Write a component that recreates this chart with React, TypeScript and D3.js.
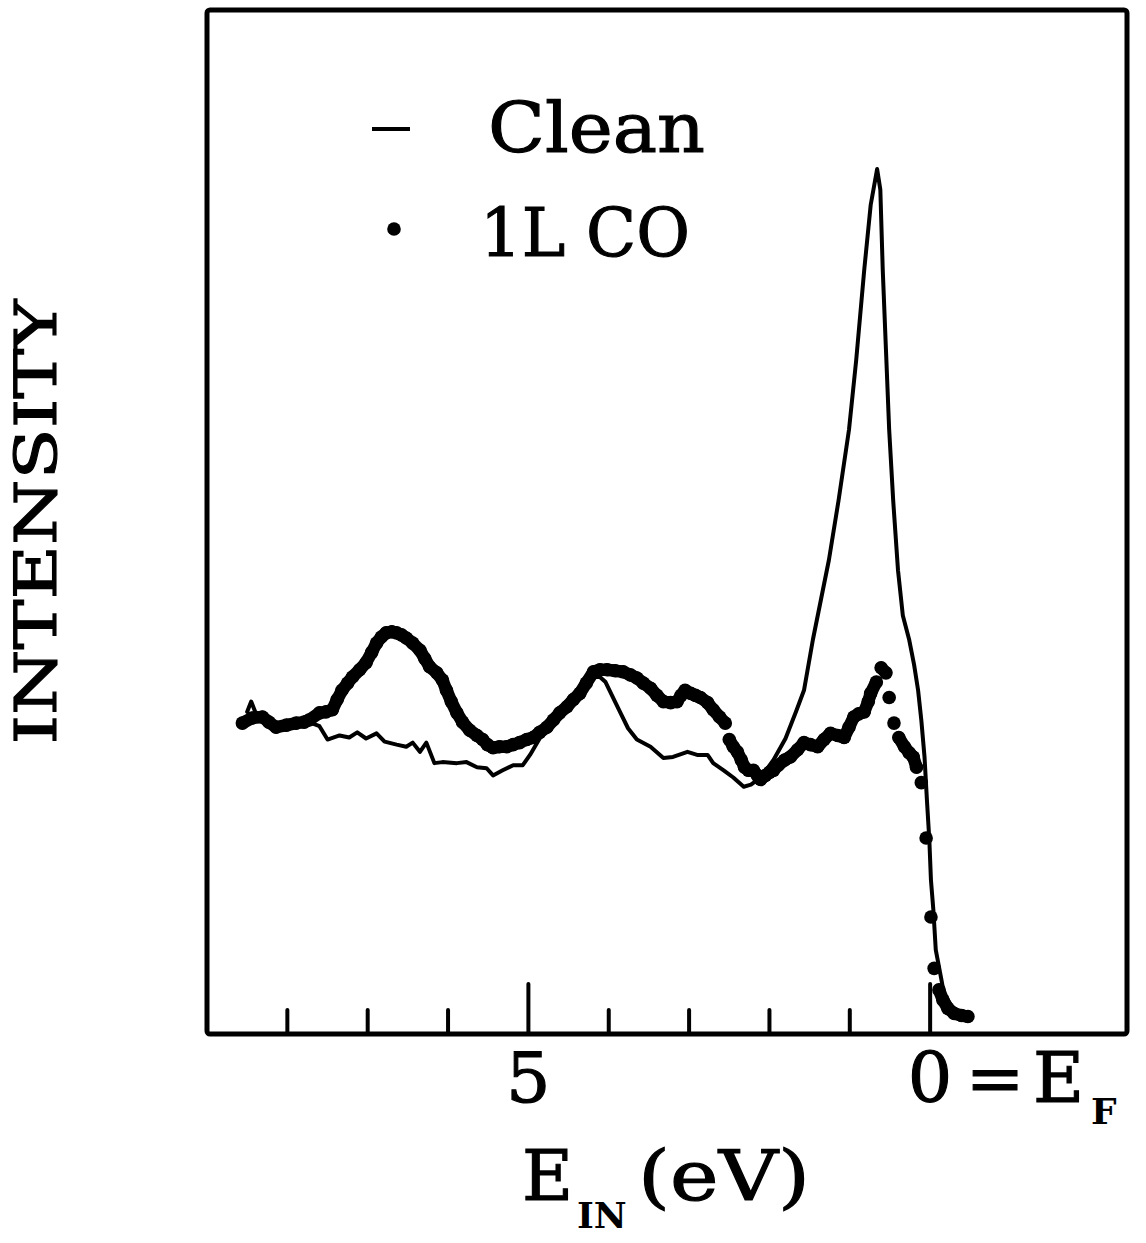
import React from "react";
import * as d3 from "d3";

// Energy below Fermi level (eV) and intensity (arb. units, 0-100) — clean surface
const cleanEnergy = [8.50, 8.45, 8.40, 8.33, 8.23, 8.10, 7.98, 7.85, 7.73, 7.60, 7.50, 7.35, 7.23, 7.13, 7.02, 6.89, 6.79, 6.64, 6.52, 6.44, 6.35, 6.27, 6.17, 6.07, 5.89, 5.77, 5.64, 5.52, 5.44, 5.32, 5.19, 5.07, 4.98, 4.86, 4.69, 4.52, 4.36, 4.19, 4.11, 4.04, 3.96, 3.86, 3.76, 3.65, 3.48, 3.32, 3.20, 3.02, 2.90, 2.77, 2.70, 2.57, 2.45, 2.32, 2.23, 2.11, 1.95, 1.80, 1.67, 1.57, 1.46, 1.36, 1.26, 1.14, 1.01, 0.92, 0.82, 0.74, 0.66, 0.62, 0.59, 0.55, 0.51, 0.46, 0.40, 0.34, 0.26, 0.20, 0.15, 0.11, 0.07, 0.04, 0.01, -0.01, -0.04, -0.07, -0.14, -0.17, -0.26, -0.35, -0.51];
const cleanIntensity = [31.4, 32.4, 31.4, 31.0, 30.4, 30.2, 30.4, 30.3, 30.4, 30.0, 28.7, 29.1, 28.9, 29.4, 28.8, 29.3, 28.5, 28.2, 28.0, 28.4, 27.5, 28.4, 26.4, 26.5, 26.4, 26.5, 26.0, 25.9, 25.2, 25.7, 26.2, 26.2, 27.2, 28.8, 30.3, 31.9, 33.2, 34.8, 34.8, 34.3, 33.0, 31.4, 29.8, 28.7, 28.0, 26.9, 27.0, 27.5, 27.2, 27.2, 26.4, 25.7, 25.0, 24.1, 24.3, 25.0, 26.7, 28.8, 31.4, 33.5, 38.4, 42.3, 46.2, 52.0, 58.9, 65.7, 74.5, 80.8, 84.3, 82.3, 74.5, 66.7, 58.9, 52.0, 45.2, 40.8, 38.4, 36.0, 33.5, 30.6, 27.0, 22.8, 18.9, 15.0, 12.1, 8.2, 5.3, 4.0, 2.8, 2.0, 1.6];

// 1 L CO exposure
const coEnergy = [8.56, 8.44, 8.31, 8.23, 8.14, 8.01, 7.89, 7.79, 7.73, 7.60, 7.52, 7.44, 7.38, 7.32, 7.25, 7.19, 7.10, 7.02, 6.95, 6.89, 6.83, 6.77, 6.70, 6.64, 6.58, 6.52, 6.44, 6.35, 6.29, 6.23, 6.14, 6.07, 6.02, 5.96, 5.89, 5.82, 5.73, 5.64, 5.57, 5.51, 5.44, 5.36, 5.27, 5.19, 5.11, 5.02, 4.94, 4.86, 4.77, 4.69, 4.61, 4.52, 4.44, 4.36, 4.28, 4.19, 4.11, 4.02, 3.92, 3.82, 3.73, 3.65, 3.57, 3.48, 3.40, 3.32, 3.23, 3.15, 3.10, 3.05, 2.98, 2.92, 2.86, 2.77, 2.70, 2.62, 2.55, 2.50, 2.45, 2.40, 2.35, 2.31, 2.26, 2.20, 2.15, 2.11, 2.05, 2.00, 1.95, 1.89, 1.81, 1.74, 1.65, 1.57, 1.49, 1.40, 1.32, 1.24, 1.15, 1.07, 1.01, 0.95, 0.89, 0.82, 0.77, 0.74, 0.67, 0.61, 0.55, 0.51, 0.45, 0.39, 0.32, 0.26, 0.21, 0.17, 0.11, 0.05, -0.01, -0.05, -0.11, -0.16, -0.22, -0.30, -0.39, -0.47];
const coIntensity = [30.3, 30.8, 30.9, 30.4, 29.9, 30.1, 30.3, 30.4, 30.6, 31.3, 31.4, 31.6, 32.6, 33.5, 34.2, 34.8, 35.5, 36.2, 37.2, 38.1, 38.7, 39.1, 39.2, 39.1, 38.9, 38.6, 38.1, 37.4, 36.6, 35.8, 35.2, 34.5, 33.5, 32.4, 31.3, 30.4, 29.6, 29.1, 28.7, 28.2, 27.9, 28.0, 28.0, 28.2, 28.4, 28.7, 28.9, 29.4, 29.9, 30.6, 31.3, 31.9, 32.6, 33.2, 34.2, 35.3, 35.5, 35.5, 35.4, 35.3, 35.0, 34.7, 34.2, 33.7, 33.0, 32.4, 32.3, 32.4, 33.0, 33.5, 33.2, 33.0, 32.8, 32.3, 31.6, 30.9, 30.3, 28.7, 28.0, 27.5, 26.7, 26.0, 25.7, 25.7, 25.2, 24.8, 25.2, 25.5, 25.7, 26.2, 26.7, 27.0, 27.7, 28.4, 28.2, 28.0, 28.7, 29.3, 29.1, 28.9, 29.9, 30.9, 31.2, 31.4, 32.4, 33.2, 34.3, 35.7, 35.2, 32.8, 30.3, 28.9, 28.0, 27.4, 27.0, 26.0, 24.5, 19.1, 11.4, 6.4, 4.3, 3.3, 2.5, 2.0, 1.8, 1.7];

const minorTicks = [8, 7, 6, 4, 3, 2, 1];
const majorTicks = [5, 0];
const legendLabels = ["Clean", "1L CO"];

const W = 1146;
const H = 1243;

export default function App() {
  const x = d3.scaleLinear().domain([9.0, -2.45]).range([207, 1127]);
  const y = d3.scaleLinear().domain([0, 100]).range([1034, 8]);

  const clean = cleanEnergy.map((e, i) => [e, cleanIntensity[i]] as [number, number]);
  const co = coEnergy.map((e, i) => [e, coIntensity[i]] as [number, number]);

  const line = d3
    .line<[number, number]>()
    .x((d) => x(d[0]))
    .y((d) => y(d[1]))
    .curve(d3.curveLinear);

  // band segments between close-by dots
  const segs: string[] = [];
  for (let i = 1; i < co.length; i++) {
    const dx = x(co[i][0]) - x(co[i - 1][0]);
    const dy = y(co[i][1]) - y(co[i - 1][1]);
    if (Math.hypot(dx, dy) < 15) segs.push(line([co[i - 1], co[i]]) as string);
  }

  const font = "'DejaVu Serif', serif";
  const fb = 1034;
  const txt = { fill: "#000", stroke: "#000", strokeWidth: 1.1 };

  return (
    <svg
      width={W}
      height={H}
      style={{ position: "absolute", left: 0, top: 0, background: "#fff" }}
      fontFamily={font}
    >
      <rect x={0} y={0} width={W} height={H} fill="#fff" />
      {/* frame */}
      <rect
        x={x(9.0)}
        y={y(100) + 2}
        width={x(-2.45) - x(9.0)}
        height={fb - y(100) - 2}
        fill="none"
        stroke="#000"
        strokeWidth={5}
        rx={3}
      />
      {/* ticks */}
      {minorTicks.map((t) => (
        <line key={"m" + t} x1={x(t)} x2={x(t)} y1={fb} y2={fb - 24} stroke="#000" strokeWidth={4} strokeLinecap="round" />
      ))}
      {majorTicks.map((t) => (
        <line key={"M" + t} x1={x(t)} x2={x(t)} y1={fb} y2={fb - 50} stroke="#000" strokeWidth={4} strokeLinecap="round" />
      ))}

      {/* clean curve */}
      <path d={line(clean) as string} fill="none" stroke="#000" strokeWidth={4} strokeLinejoin="round" strokeLinecap="round" />

      {/* 1L CO dots */}
      {segs.map((d, i) => (
        <path key={"s" + i} d={d} fill="none" stroke="#000" strokeWidth={12.5} strokeLinecap="round" />
      ))}
      {co.map((d, i) => (
        <circle key={"c" + i} cx={x(d[0])} cy={y(d[1])} r={6.8} fill="#000" />
      ))}

      {/* legend */}
      <line x1={372} x2={410} y1={129} y2={129} stroke="#000" strokeWidth={4} />
      <text x={488} y={152} fontSize={70} textLength={217} lengthAdjust="spacingAndGlyphs" {...txt}>
        {legendLabels[0]}
      </text>
      <circle cx={394} cy={229} r={6.8} fill="#000" />
      <text x={480} y={256} fontSize={68} textLength={210} lengthAdjust="spacingAndGlyphs" {...txt}>
        {legendLabels[1]}
      </text>

      {/* tick labels */}
      <text x={x(5)} y={1102} fontSize={70} textAnchor="middle" {...txt}>5</text>
      <text x={x(0)} y={1102} fontSize={70} textAnchor="middle" {...txt}>0</text>
      <text x={995} y={1102} fontSize={70} textAnchor="middle" {...txt}>=</text>
      <text x={1033} y={1102} fontSize={70} {...txt}>E</text>
      <text x={1091} y={1124} fontSize={36} fontWeight="bold">F</text>

      {/* x axis title */}
      <text x={522} y={1200} fontSize={70} {...txt}>E</text>
      <text x={577} y={1228} fontSize={36} fontWeight="bold">IN</text>
      <text x={638} y={1200} fontSize={70} textLength={172} lengthAdjust="spacingAndGlyphs" {...txt}>(eV)</text>

      {/* y axis title */}
      <text
        transform="translate(56,522) rotate(-90)"
        fontSize={58}
        textAnchor="middle"
        textLength={445}
        lengthAdjust="spacingAndGlyphs"
        {...txt}
      >
        INTENSITY
      </text>
    </svg>
  );
}
